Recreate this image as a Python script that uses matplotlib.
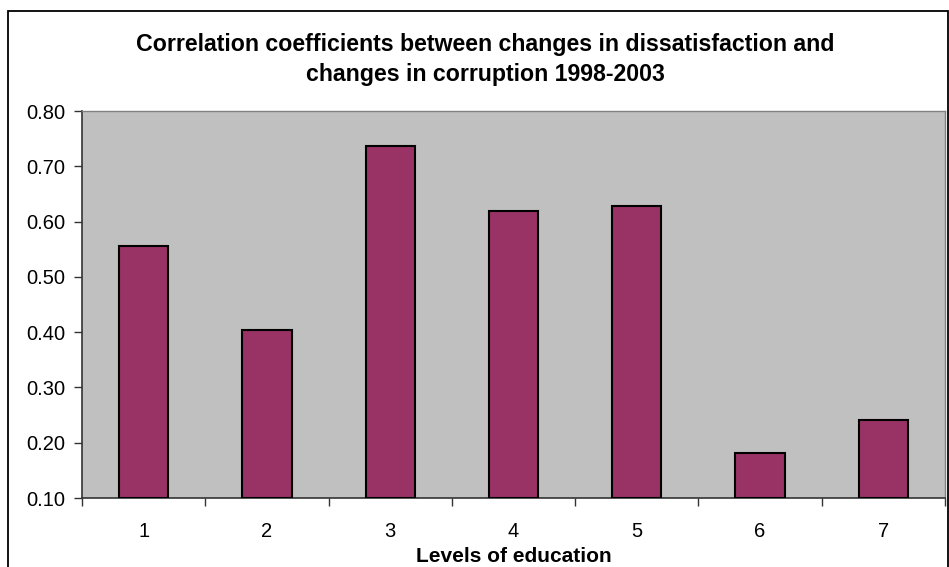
import matplotlib
matplotlib.use("Agg")
import matplotlib.pyplot as plt
from matplotlib.patches import Rectangle
from matplotlib.ticker import FixedLocator, NullFormatter

categories = ["1", "2", "3", "4", "5", "6", "7"]
values = [0.556, 0.404, 0.737, 0.619, 0.628, 0.181, 0.241]
yticks = [0.10, 0.20, 0.30, 0.40, 0.50, 0.60, 0.70, 0.80]

plt.rcParams['font.family'] = ['Liberation Sans', 'DejaVu Sans']

fig = plt.figure(figsize=(9.49, 5.67), dpi=100)
ax = fig.add_axes([82/949, 1-498/567, (945-82)/949, (498-111)/567])
ax.set_facecolor('#C0C0C0')

x = list(range(len(categories)))
ax.bar(x, [v - 0.10 for v in values], bottom=0.10, width=0.4,
       color='#993366', edgecolor='black', linewidth=1.5, zorder=3)

ax.set_xlim(-0.5, len(categories) - 0.5)
ax.set_ylim(0.10, 0.80)
ax.set_yticks(yticks)
ax.set_yticklabels([f"{t:.2f}" for t in yticks], fontsize=14.5)
ax.xaxis.set_major_locator(FixedLocator([i - 0.5 for i in range(len(categories) + 1)]))
ax.xaxis.set_major_formatter(NullFormatter())
ax.xaxis.set_minor_locator(FixedLocator(x))
ax.set_xticklabels(categories, minor=True, fontsize=14.5)
ax.tick_params(axis='x', which='minor', length=0, pad=17)
ax.tick_params(axis='x', which='major', length=6, width=1, color='#333333', direction='out')
ax.tick_params(axis='y', length=6, width=1, color='#333333', direction='out', pad=6)

for s in ['top', 'right']:
    ax.spines[s].set_color('#808080')
    ax.spines[s].set_linewidth(1)
for s in ['left', 'bottom']:
    ax.spines[s].set_color('#333333')
    ax.spines[s].set_linewidth(1.2)

fig.text(0.5 * (132 + 838) / 949, 1-44/567, "Correlation coefficients between changes in dissatisfaction and",
         ha='center', va='center', fontsize=16.7, fontweight='bold')
fig.text(0.5 * (132 + 838) / 949, 1-75/567, "changes in corruption 1998-2003",
         ha='center', va='center', fontsize=16.7, fontweight='bold')
fig.text(0.5 * (417 + 610) / 949, 1-556/567, "Levels of education", ha='center', va='center',
         fontsize=15, fontweight='bold')

fig.patches.append(Rectangle((8/949, -5/567), (947.5-8)/949, (556+5)/567,
                             transform=fig.transFigure, fill=False,
                             edgecolor='black', linewidth=1.3))

fig.savefig("out.png", dpi=100)
